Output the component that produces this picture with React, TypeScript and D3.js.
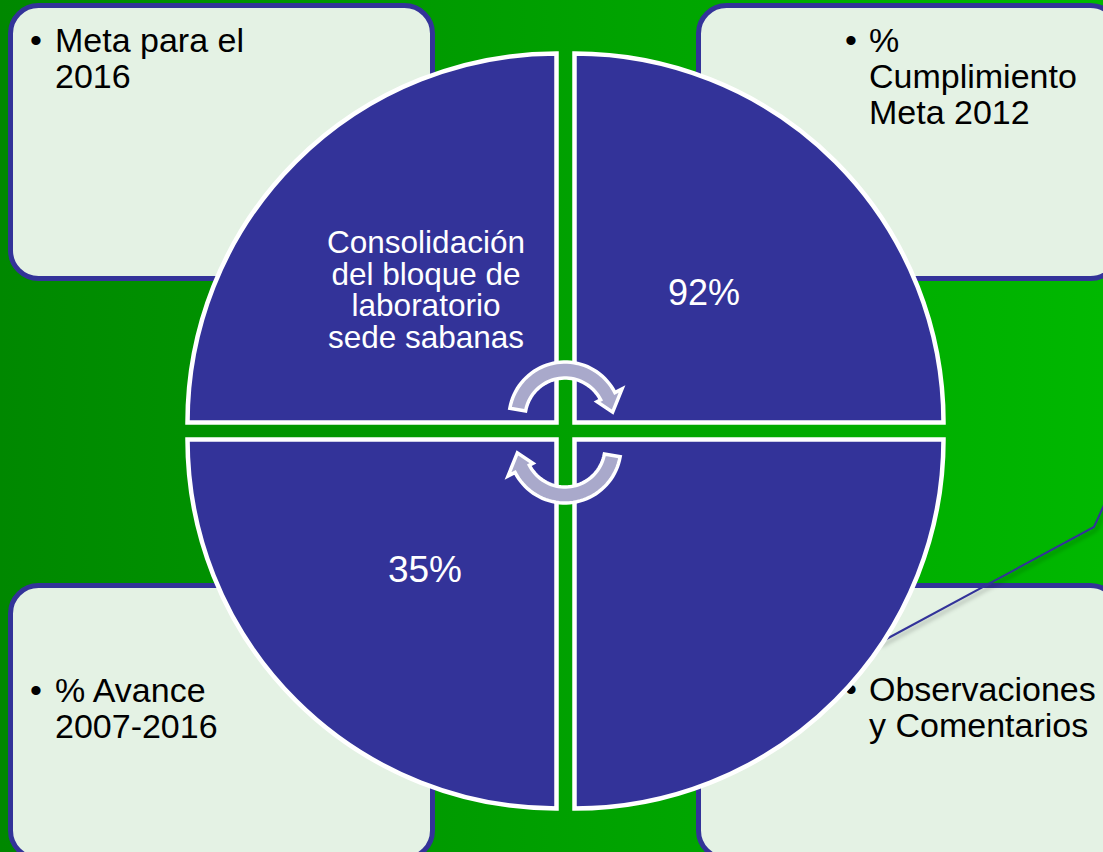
import React from "react";
import * as d3 from "d3";

// ---- data ----
const cornerTitles: string[][] = [
  ["Meta para el", "2016"],
  ["%", "Cumplimiento", "Meta 2012"],
  ["% Avance", "2007-2016"],
  ["Observaciones", "y Comentarios"],
];
const quadrantLabels: string[][] = [
  ["Consolidación", "del bloque de", "laboratorio", "sede sabanas"],
  ["92%"],
  ["35%"],
  [],
];

// ---- layout ----
const W = 1103;
const H = 852;
const CX = 565.5;
const CY = 431;
const R = 369;
const GX = 9;
const GY = 8.5;
const NAVY = "#333399";
const FONT = "'Liberation Sans', Arial, sans-serif";

const boxes = [
  { x: 10.5, y: 5.5, w: 422, h: 273, tx: 55, bx: 30, ty: 52 },
  { x: 698.5, y: 5.5, w: 420, h: 273, tx: 869, bx: 845, ty: 52 },
  { x: 10.5, y: 585.5, w: 422, h: 273, tx: 55, bx: 30, ty: 702 },
  { x: 698.5, y: 585.5, w: 420, h: 273, tx: 869, bx: 845, ty: 701 },
];

const quads = [
  { a0: -Math.PI / 2, a1: 0, dx: -GX, dy: -GY, lx: 426, ly: 253, fs: 31.5, lh: 31.7 },
  { a0: 0, a1: Math.PI / 2, dx: GX, dy: -GY, lx: 704, ly: 305, fs: 36, lh: 36 },
  { a0: Math.PI, a1: (3 * Math.PI) / 2, dx: -GX, dy: GY, lx: 425, ly: 582, fs: 37, lh: 36 },
  { a0: Math.PI / 2, a1: Math.PI, dx: GX, dy: GY, lx: 760, ly: 600, fs: 30, lh: 32 },
];

function circArrow(
  cx: number, cy: number, r: number, t: number, hIn: number, hOut: number,
  a0: number, aBase: number, aTip: number
): string {
  const rad = (d: number) => (d * Math.PI) / 180;
  const p = (rr: number, a: number): [number, number] => [
    cx + rr * Math.cos(rad(a)),
    cy - rr * Math.sin(rad(a)),
  ];
  const steps = d3.range(0, 41).map((i) => a0 + ((aBase - a0) * i) / 40);
  const pts: [number, number][] = [];
  steps.forEach((a) => pts.push(p(r + t / 2, a)));
  pts.push(p(r + hOut, aBase));
  pts.push(p(r, aTip));
  pts.push(p(r - hIn, aBase));
  steps.slice().reverse().forEach((a) => pts.push(p(r - t / 2, a)));
  return (d3.line()(pts) as string) + "Z";
}

export default function App() {
  const arc = d3.arc<any>().innerRadius(0).outerRadius(R);
  const topArrow = circArrow(565, 418, 48, 16, 12, 16, 170, 27, 7);
  const botArrow = circArrow(565, 447, 48, 16, 12, 16, -10, -153, -173);
  const linePts: [number, number][] = [
    [1105, 503],
    [1094, 527],
    [879, 643],
  ];

  return (
    <div style={{ position: "absolute", left: 0, top: 0 }}>
      <svg width={W} height={H} style={{ display: "block" }}>
        <defs>
          <linearGradient id="bg" x1="0" y1="0" x2="1" y2="0">
            <stop offset="0" stopColor="#008800" />
            <stop offset="1" stopColor="#00b800" />
          </linearGradient>
          <filter id="sh" x="-10%" y="-10%" width="130%" height="130%">
            <feDropShadow dx="2" dy="3" stdDeviation="2" floodColor="#000" floodOpacity="0.3" />
          </filter>
        </defs>
        <rect x={0} y={0} width={W} height={H} fill="url(#bg)" />

        {boxes.map((b, i) => (
          <g key={i}>
            <rect x={b.x} y={b.y} width={b.w} height={b.h} rx={28} ry={28}
              fill="#e4f2e4" stroke={NAVY} strokeWidth={5} />
            <text x={b.bx} y={b.ty} fontFamily={FONT} fontSize={34} fill="#000">•</text>
            {cornerTitles[i].map((s, j) => (
              <text key={j} x={b.tx} y={b.ty + j * 36} fontFamily={FONT} fontSize={34} fill="#000">
                {s}
              </text>
            ))}
          </g>
        ))}

        <path d={d3.line()(linePts) as string} fill="none" stroke={NAVY} strokeWidth={2}
          filter="url(#sh)" />

        {quads.map((q, i) => (
          <g key={i}>
            <path
              transform={`translate(${CX + q.dx},${CY + q.dy})`}
              d={arc({ startAngle: q.a0, endAngle: q.a1 }) as string}
              fill={NAVY}
              stroke="#fff"
              strokeWidth={4.5}
              strokeLinejoin="miter"
            />
            {quadrantLabels[i].map((s, j) => (
              <text key={j} x={q.lx} y={q.ly + j * q.lh} textAnchor="middle"
                fontFamily={FONT} fontSize={q.fs} fill="#fff">
                {s}
              </text>
            ))}
          </g>
        ))}

        <path d={topArrow} fill="#a9a9cb" stroke="#fff" strokeWidth={3.5} strokeLinejoin="miter" />
        <path d={botArrow} fill="#a9a9cb" stroke="#fff" strokeWidth={3.5} strokeLinejoin="miter" />
      </svg>
    </div>
  );
}
